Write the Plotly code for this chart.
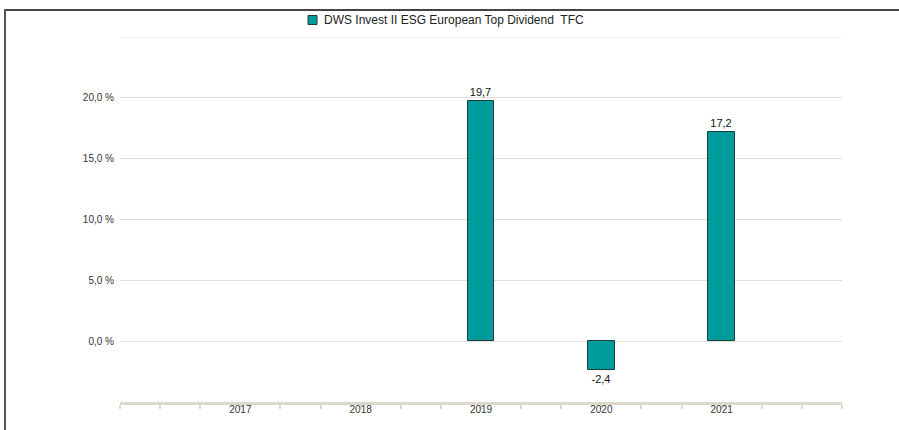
import plotly.graph_objects as go

years = [2017, 2018, 2019, 2020, 2021]
values = [None, None, 19.7, -2.4, 17.2]
series_name = "DWS Invest II ESG European Top Dividend  TFC"
y_tick_vals = [0, 5, 10, 15, 20]
y_tick_text = ["0,0 %", "5,0 %", "10,0 %", "15,0 %", "20,0 %"]
y_top = 25

labels = [("" if v is None else f"{v:.1f}".replace(".", ",")) for v in values]

BAR_COLOR = "#009c9c"
BAR_LINE = "#1e3c3c"
GRID = "#e2dfd6"
FONT = "Liberation Sans, Arial, sans-serif"

fig = go.Figure()
fig.add_trace(go.Bar(
    x=years, y=values, name=series_name,
    width=0.22,
    marker=dict(color=BAR_COLOR, line=dict(color=BAR_LINE, width=1)),
    text=labels, textposition="outside", cliponaxis=False,
    textfont=dict(family=FONT, size=11, color="#111"),
    showlegend=False,
))

W, H = 899, 430
L, R, T, B = 120, 57, 37, 28
pw, ph = W - L - R, H - T - B

def px(x):
    return (x - L) / pw

def py(y):
    return (H - B - y) / ph

fig.update_layout(
    width=W, height=H,
    margin=dict(l=L, r=R, t=T, b=B, autoexpand=False),
    paper_bgcolor="white", plot_bgcolor="white",
    font=dict(family=FONT, size=10, color="#333"),
    showlegend=False,
    bargap=0,
    xaxis=dict(range=[2016, 2022], tickmode="array", tickvals=years,
               ticktext=[str(y) for y in years],
               showgrid=False, zeroline=False, showline=True,
               linecolor="#dcd8cc", linewidth=2.5,
               ticks="", ticklabelstandoff=-4,
               minor=dict(ticks="outside", tick0=2016, dtick=1 / 3, ticklen=4,
                          tickwidth=1.5, tickcolor="#dcd8cc", showgrid=False),
               tickfont=dict(size=10, color="#333")),
    yaxis=dict(range=[-5, y_top], tickvals=y_tick_vals, ticktext=y_tick_text,
               showgrid=True, gridcolor=GRID, gridwidth=1.2,
               zeroline=False, showline=False, ticks="", ticklabelstandoff=5,
               tickfont=dict(size=10, color="#333")),
    shapes=[
        dict(type="line", xref="paper", yref="y", x0=0, x1=1, y0=y_top, y1=y_top,
             line=dict(color=GRID, width=1.2), layer="below"),
        dict(type="line", xref="paper", yref="paper", x0=px(4), x1=px(899), y0=py(10), y1=py(10),
             line=dict(color="#444", width=2)),
        dict(type="line", xref="paper", yref="paper", x0=px(5), x1=px(5), y0=py(9), y1=py(430),
             line=dict(color="#555", width=2)),
        dict(type="rect", xref="paper", yref="paper", x0=px(308), x1=px(317), y0=py(15.5), y1=py(24.5),
             fillcolor=BAR_COLOR, line=dict(color=BAR_LINE, width=1)),
    ],
    annotations=[
        dict(text=series_name, xref="paper", yref="paper", x=px(322), y=py(20),
             xanchor="left", yanchor="middle", showarrow=False,
             font=dict(family=FONT, size=12, color="#222")),
    ],
)

fig.write_html("out.html", config={"displayModeBar": False},
               post_script="document.body.style.margin='0';document.body.style.overflow='hidden';")
